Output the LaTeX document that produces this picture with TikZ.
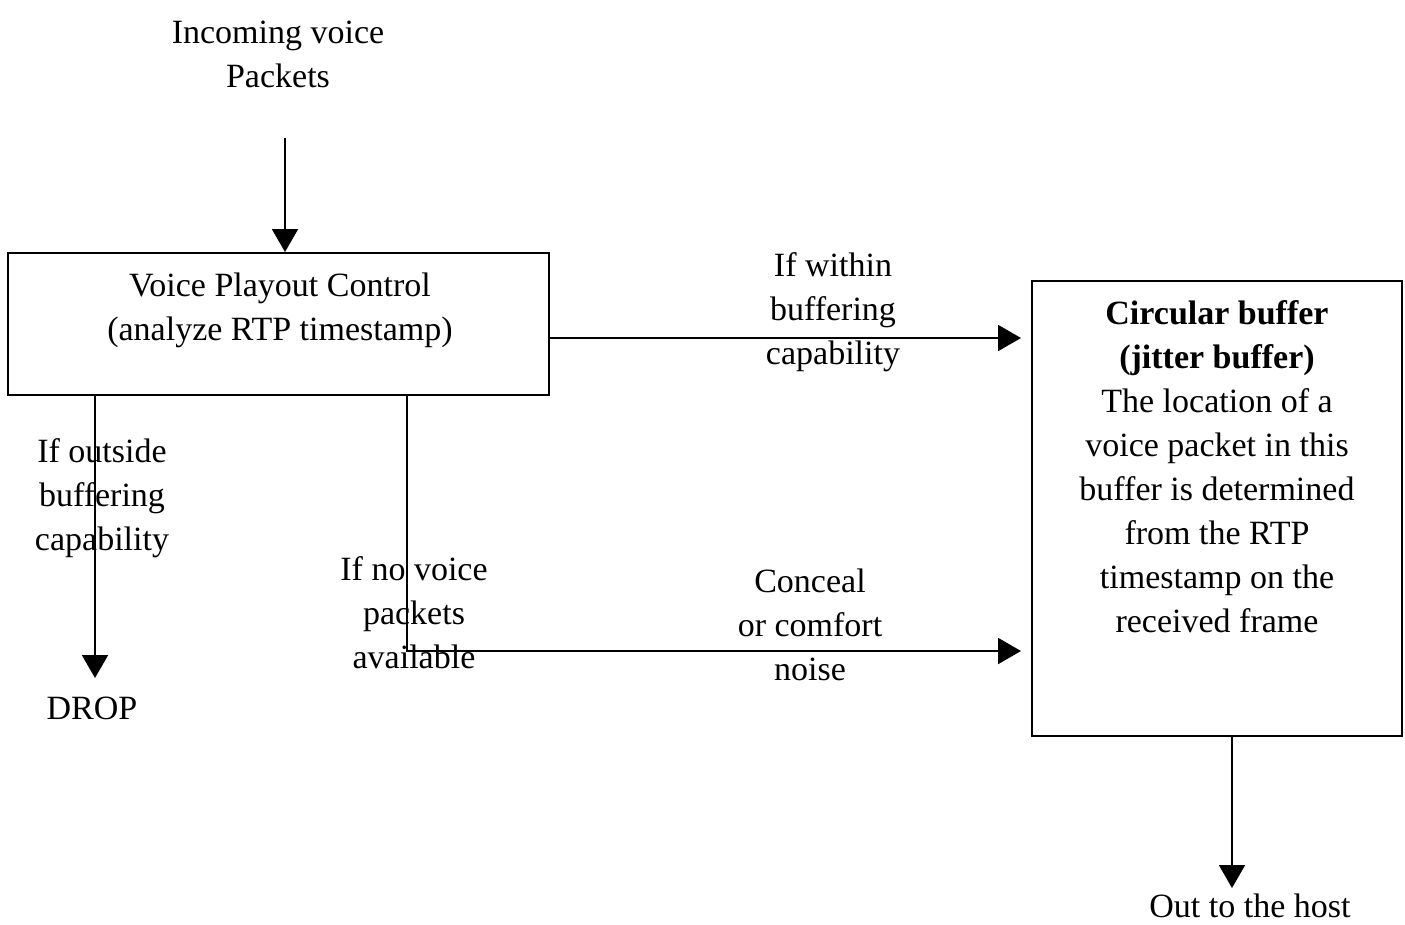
\documentclass[tikz,border=0pt]{standalone}
\usepackage{fontspec}
\setmainfont{Liberation Serif}
\usetikzlibrary{arrows.meta}
\begin{document}
\begin{tikzpicture}[x=1pt,y=-1pt,
  lbl/.style={align=center,font=\fontsize{34}{44}\selectfont,inner sep=0pt},
  boxs/.style={draw,line width=2pt,inner sep=0pt},
  arr/.style={line width=2pt,-{Triangle[width=26pt,length=23pt]}}]
\useasboundingbox (0,0) rectangle (1405,924);
\node[lbl] (inc) at (278,54) {Incoming voice\\Packets};
\node[boxs,minimum width=541pt,minimum height=142pt] (vpc) at (278.5,324) {};
\node[lbl] (vpct) at (280,310) {Voice Playout Control\\(analyze RTP timestamp)};
\node[boxs,minimum width=370pt,minimum height=455pt] (buf) at (1217,508.5) {};
\node[lbl] (buft) at (1217,467) {\textbf{Circular buffer}\\\textbf{(jitter buffer)}\\The location of a\\voice packet in this\\buffer is determined\\from the RTP\\timestamp on the\\received frame};
\node[lbl] (within) at (833,312) {If within\\buffering\\capability};
\node[lbl] (outside) at (102,498) {If outside\\buffering\\capability};
\node[lbl] (novoice) at (414,613) {If no voice\\packets\\available};
\node[lbl] (conceal) at (810,625) {Conceal\\or comfort\\noise};
\node[lbl,anchor=north] (drop) at (92,697) {DROP};
\node[lbl,anchor=north] (out) at (1250,894) {Out to the host};
\coordinate (incs) at (285,138);
\draw[arr] (incs) -- (vpc.north -| incs);
\draw[arr,shorten >=10pt] (vpc.east |- 0,338) -- (buf.west |- 0,338);
\draw[arr,shorten >=19pt] (vpc.south -| 95,0) -- (drop.north -| 95,0);
\draw[arr,shorten >=10pt] (vpc.south -| 407,0) |- (buf.west |- 0,651);
\draw[arr,shorten >=6pt] (buf.south -| 1232,0) -- (out.north -| 1232,0);
\end{tikzpicture}
\end{document}
